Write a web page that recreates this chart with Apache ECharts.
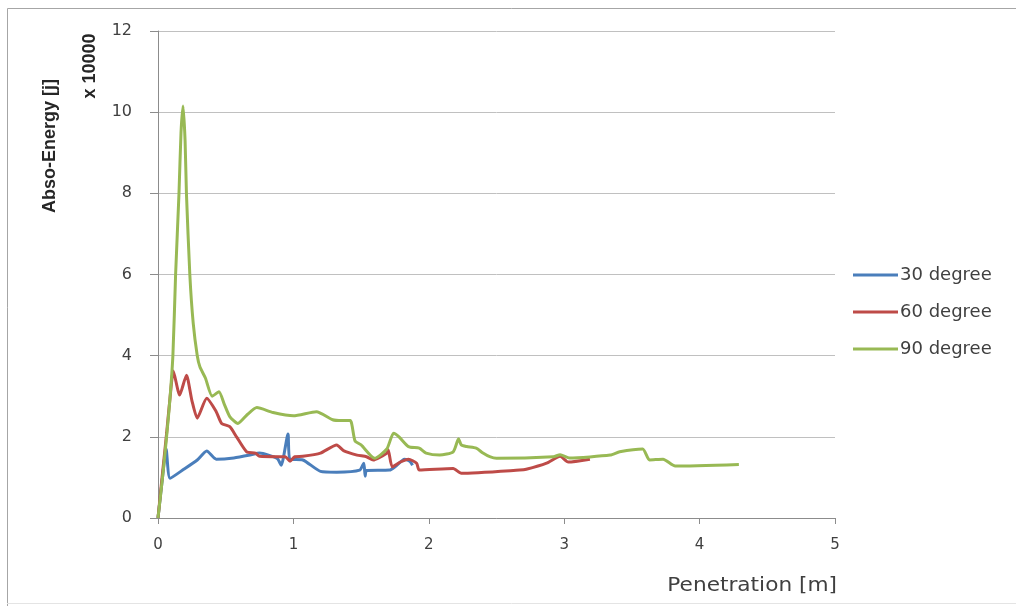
<!DOCTYPE html>
<html>
<head>
<meta charset="utf-8">
<script src="https://cdn.jsdelivr.net/npm/echarts@6/dist/echarts.min.js"></script>
<style>
  html, body { margin: 0; padding: 0; background: #fff; }
  #chart { width: 1016px; height: 606px; }
</style>
</head>
<body>
<div id="chart"></div>
<script>
// penetration [m] / energy [x 10000 j]
const deg30X = [0, 0.03, 0.06, 0.089, 0.19, 0.29, 0.36, 0.43, 0.56, 0.68, 0.75, 0.88, 0.91, 0.96, 0.975, 1.07, 1.2, 1.32, 1.49, 1.52, 1.53, 1.54, 1.71, 1.75, 1.82, 1.86, 1.88];
const deg30Y = [0, 0.9, 1.7, 0.98, 1.2, 1.43, 1.65, 1.45, 1.48, 1.55, 1.6, 1.47, 1.3, 2.07, 1.45, 1.43, 1.15, 1.13, 1.18, 1.35, 1.03, 1.17, 1.18, 1.26, 1.45, 1.4, 1.3];

const deg60X = [0, 0.03, 0.064, 0.09, 0.113, 0.16, 0.21, 0.25, 0.29, 0.36, 0.43, 0.47, 0.53, 0.58, 0.655, 0.72, 0.75, 0.9, 0.94, 0.975, 1.01, 1.07, 1.2, 1.32, 1.37, 1.47, 1.54, 1.59, 1.64, 1.69, 1.7, 1.73, 1.79, 1.85, 1.91, 1.93, 2.18, 2.24, 2.67, 2.72, 2.87, 2.97, 3.03, 3.19];
const deg60Y = [0, 1.0, 2.1, 3.0, 3.62, 3.03, 3.52, 2.9, 2.46, 2.95, 2.62, 2.33, 2.25, 2.0, 1.63, 1.6, 1.52, 1.51, 1.51, 1.4, 1.51, 1.52, 1.6, 1.8, 1.66, 1.55, 1.51, 1.43, 1.5, 1.6, 1.68, 1.26, 1.38, 1.45, 1.35, 1.18, 1.22, 1.1, 1.18, 1.2, 1.35, 1.52, 1.38, 1.45];

const deg90X = [0, 0.04, 0.08, 0.11, 0.13, 0.155, 0.17, 0.185, 0.2, 0.21, 0.235, 0.26, 0.29, 0.31, 0.35, 0.4, 0.45, 0.49, 0.53, 0.59, 0.66, 0.73, 0.85, 1.0, 1.17, 1.29, 1.36, 1.42, 1.455, 1.5, 1.6, 1.69, 1.74, 1.78, 1.85, 1.93, 1.98, 2.08, 2.18, 2.22, 2.24, 2.28, 2.35, 2.4, 2.45, 2.5, 2.92, 2.97, 3.04, 3.34, 3.41, 3.58, 3.63, 3.73, 3.82, 4.29];
const deg90Y = [0, 1.2, 2.6, 4.0, 6.0, 8.0, 9.5, 10.15, 9.3, 8.0, 6.0, 4.8, 4.0, 3.72, 3.45, 3.0, 3.11, 2.8, 2.5, 2.33, 2.55, 2.72, 2.6, 2.52, 2.62, 2.42, 2.4, 2.4, 1.9, 1.8, 1.47, 1.7, 2.09, 2.0, 1.76, 1.72, 1.6, 1.55, 1.63, 1.95, 1.8, 1.76, 1.72, 1.6, 1.51, 1.47, 1.51, 1.56, 1.48, 1.55, 1.63, 1.7, 1.43, 1.45, 1.28, 1.32];

const seriesNames = ["30 degree", "60 degree", "90 degree"];
const seriesColors = ["#4a7ebb", "#be4b48", "#98b954"];

function zip(xs, ys) {
  return xs.map((x, i) => [x, ys[i]]);
}

const chart = echarts.init(document.getElementById("chart"));
const labelColor = "#404040";

chart.setOption({
  animation: false,
  grid: { left: 158, right: 181, top: 31, bottom: 88, containLabel: false },
  legend: {
    orient: "vertical",
    left: 848,
    top: 261,
    icon: "rect",
    itemWidth: 45,
    itemHeight: 3,
    itemGap: 19,
    textStyle: { fontFamily: "DejaVu Sans", fontSize: 18, lineHeight: 18, color: labelColor, padding: [0, 0, 0, -3] },
    data: seriesNames
  },
  xAxis: {
    type: "value",
    min: 0,
    max: 5,
    interval: 1,
    axisLine: { lineStyle: { color: "#8c8c8c", width: 1 } },
    axisTick: { show: true, length: 6, lineStyle: { color: "#8c8c8c" } },
    axisLabel: { margin: 20, fontFamily: "DejaVu Sans", fontSize: 15, color: labelColor },
    splitLine: { show: false }
  },
  yAxis: {
    type: "value",
    min: 0,
    max: 12,
    interval: 2,
    axisLine: { show: true, lineStyle: { color: "#8c8c8c", width: 1 } },
    axisTick: { show: true, length: 8, lineStyle: { color: "#8c8c8c" } },
    axisLabel: { margin: 26, fontFamily: "DejaVu Sans", fontSize: 16, color: labelColor },
    splitLine: { lineStyle: { color: "#c0c0c0", width: 1 } }
  },
  graphic: [
    {
      type: "polyline",
      shape: { points: [[7.5, 606], [7.5, 8.5], [1016, 8.5]] },
      style: { stroke: "#a6a6a6", lineWidth: 1, fill: null }
    },
    {
      type: "line",
      shape: { x1: 7, y1: 603.5, x2: 1016, y2: 603.5 },
      style: { stroke: "#e4e4e4", lineWidth: 1 }
    },
    {
      type: "text",
      x: 50,
      y: 146,
      rotation: Math.PI / 2,
      style: {
        text: "Abso-Energy [j]",
        fontFamily: "Liberation Sans",
        fontWeight: "bold",
        fontSize: 18,
        fill: "#262626",
        align: "center",
        verticalAlign: "middle"
      }
    },
    {
      type: "text",
      x: 90,
      y: 66,
      rotation: Math.PI / 2,
      style: {
        text: "x 10000",
        fontFamily: "Liberation Sans",
        fontWeight: "bold",
        fontSize: 18,
        fill: "#262626",
        align: "center",
        verticalAlign: "middle"
      }
    },
    {
      type: "text",
      x: 837,
      y: 586,
      scaleX: 1.14,
      style: {
        text: "Penetration [m]",
        fontFamily: "DejaVu Sans",
        fontSize: 19,
        fill: labelColor,
        align: "right",
        verticalAlign: "middle"
      }
    }
  ],
  series: [
    { name: seriesNames[0], data: zip(deg30X, deg30Y) },
    { name: seriesNames[1], data: zip(deg60X, deg60Y) },
    { name: seriesNames[2], data: zip(deg90X, deg90Y) }
  ].map((s, i) => ({
    name: s.name,
    type: "line",
    data: s.data,
    symbol: "none",
    smooth: 0.2,
    color: seriesColors[i],
    lineStyle: { color: seriesColors[i], width: 3 },
    z: 2 + i
  }))
});
</script>
</body>
</html>
